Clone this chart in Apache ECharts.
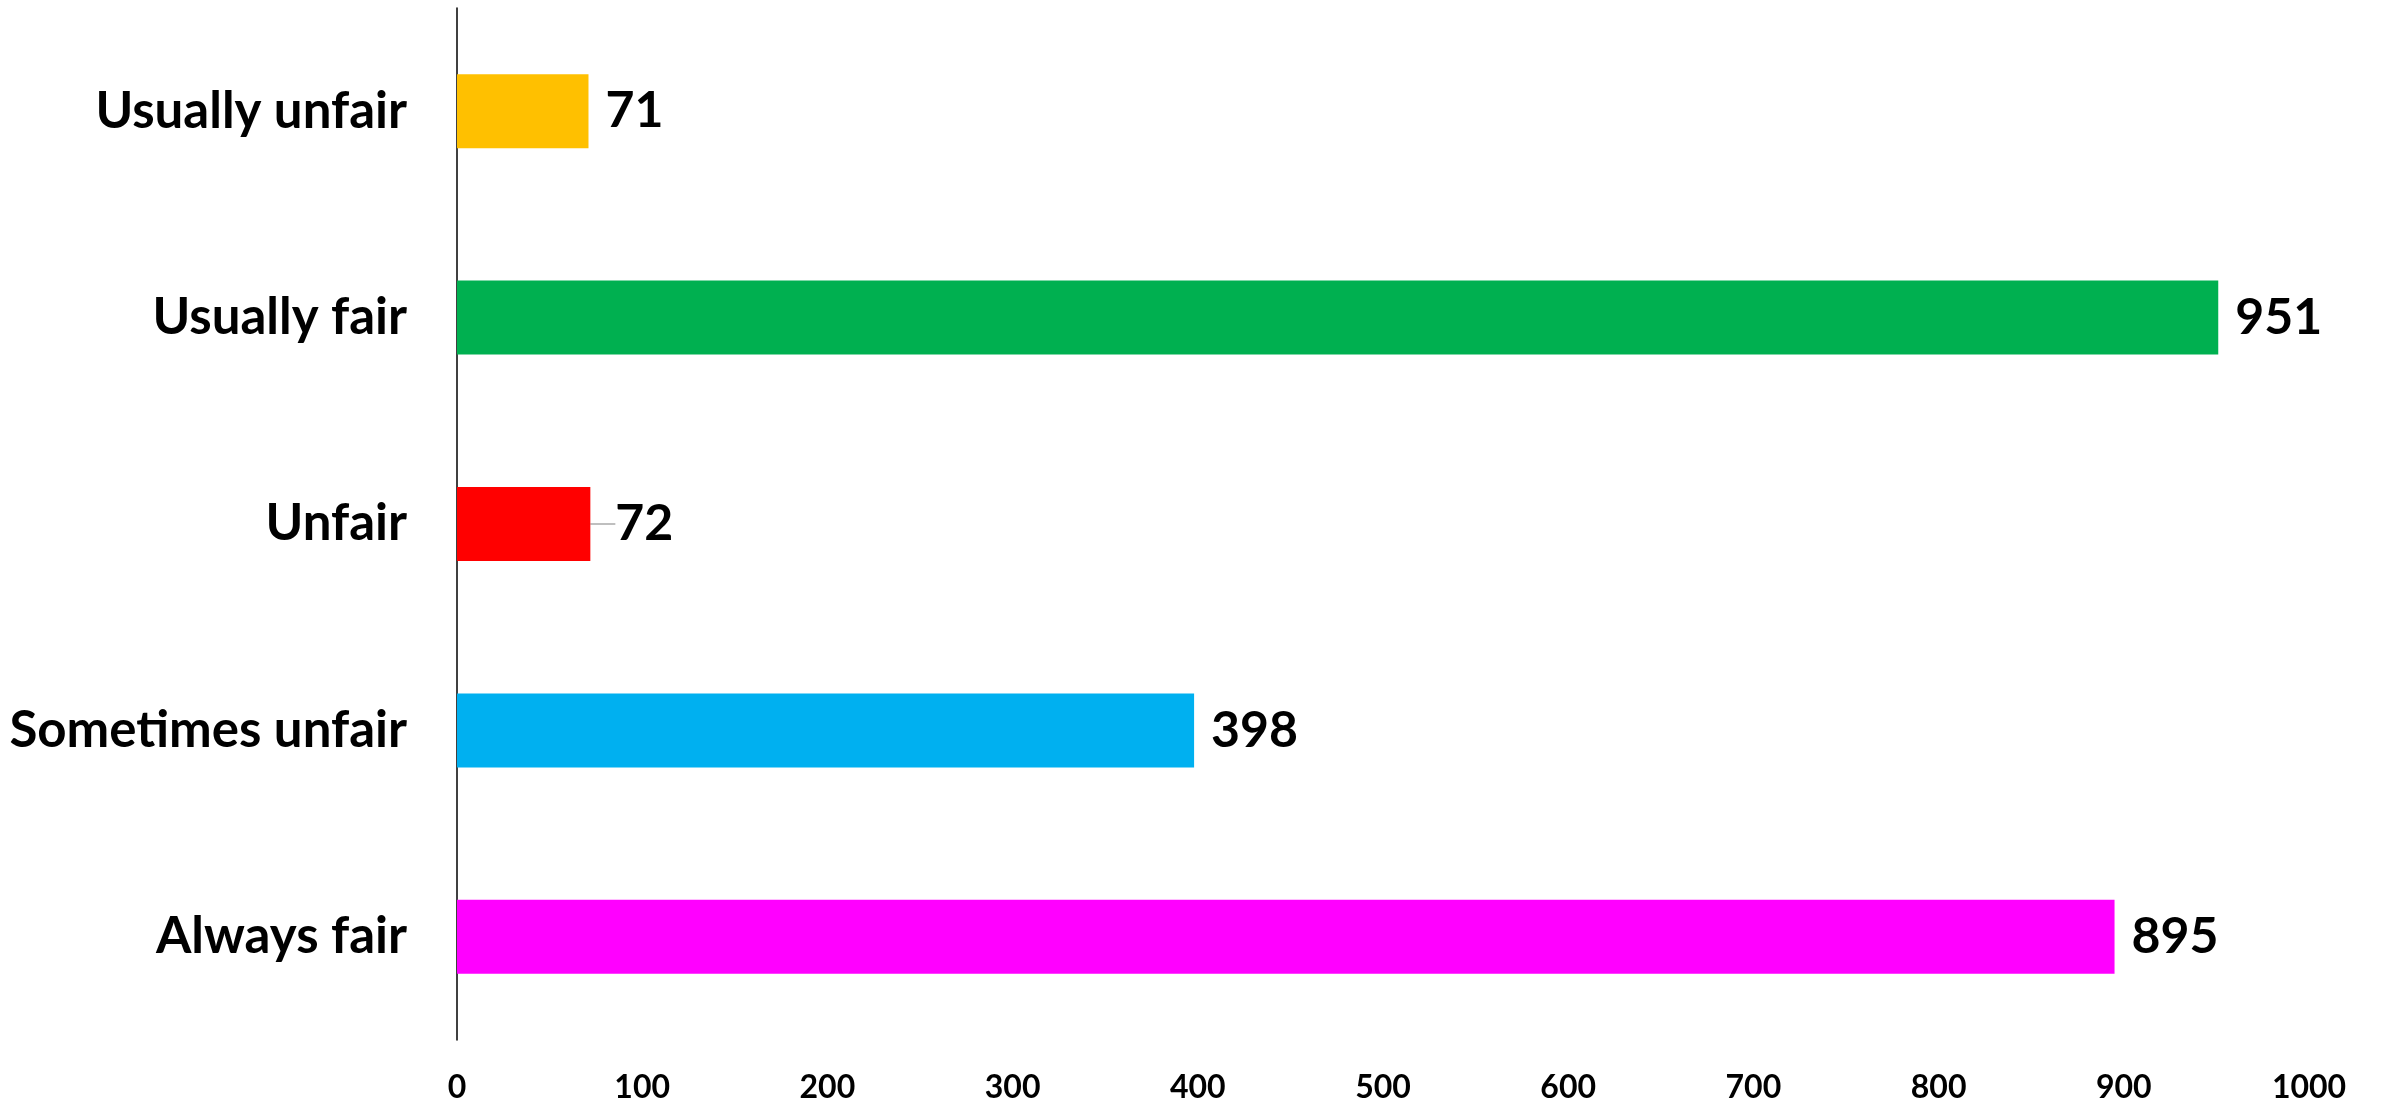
<!DOCTYPE html>
<html>
<head>
<meta charset="utf-8">
<script src="https://cdn.jsdelivr.net/npm/echarts@6/dist/echarts.min.js"></script>
<style>html,body{margin:0;padding:0;background:#fff;}#c{width:2382px;height:1107px;}</style>
</head>
<body>
<div id="c"></div>
<script>
const categories = ['Always fair', 'Sometimes unfair', 'Unfair', 'Usually fair', 'Usually unfair'];
const values = [895, 398, 72, 951, 71];
const colors = ['#FF00FF', '#00B0F0', '#FF0000', '#00B050', '#FFC000'];
const xTicks = [0, 100, 200, 300, 400, 500, 600, 700, 800, 900, 1000];

const chart = echarts.init(document.getElementById('c'));
const FONT = 'Lato';
chart.setOption({
  animation: false,
  backgroundColor: '#ffffff',
  grid: { left: 457, right: 73, top: 8, bottom: 67, containLabel: false },
  xAxis: {
    type: 'value', min: xTicks[0], max: xTicks[xTicks.length - 1], interval: 100,
    axisLine: { show: false }, axisTick: { show: false }, splitLine: { show: false },
    axisLabel: { color: '#000', fontFamily: FONT, fontWeight: 'bold', fontSize: 32, margin: 32,
      formatter: v => String(v) }
  },
  yAxis: {
    type: 'category', data: categories,
    axisLine: { show: true, lineStyle: { color: '#000', width: 1.5 } },
    axisTick: { show: false },
    axisLabel: { color: '#000', fontFamily: FONT, fontWeight: 'bold', fontSize: 51, margin: 50 }
  },
  series: [{
    type: 'bar',
    barWidth: 74,
    data: values.map((v, i) => ({
      value: v, itemStyle: { color: colors[i] },
      labelLine: { show: i === 2, lineStyle: { color: '#aaaaaa', width: 1.5 } }
    })),
    label: {
      show: true, position: 'right', distance: 17,
      color: '#000', fontFamily: FONT, fontWeight: 'bold', fontSize: 50
    },
    labelLine: { show: false },
    labelLayout: function (p) { return p.dataIndex === 2 ? { dx: 8 } : {}; }
  }]
});
</script>
</body>
</html>
